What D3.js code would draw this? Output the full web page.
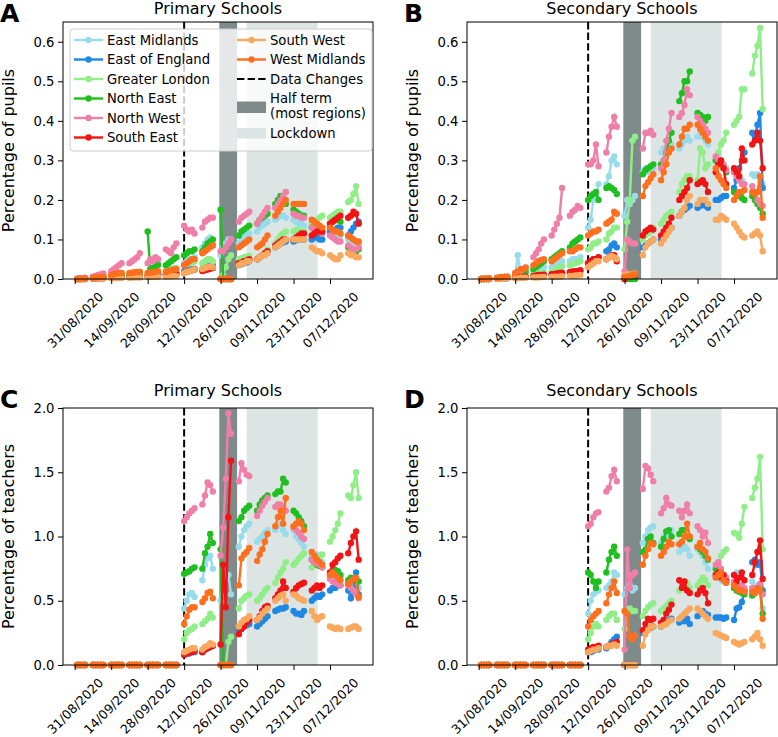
<!DOCTYPE html>
<html>
<head>
<meta charset="utf-8">
<script src="https://cdn.jsdelivr.net/npm/d3@7"></script>
<style>
    body { margin: 0; background: #fff; }
    svg text { font-family: 'DejaVu Sans', sans-serif; }
</style>
</head>
<body>
<div id="chart"></div>
<script>

// school days (weekdays) in the autumn term
var days = [
    '2020-09-01', '2020-09-02', '2020-09-03', '2020-09-04',
    '2020-09-07', '2020-09-08', '2020-09-09', '2020-09-10', '2020-09-11',
    '2020-09-14', '2020-09-15', '2020-09-16', '2020-09-17', '2020-09-18',
    '2020-09-21', '2020-09-22', '2020-09-23', '2020-09-24', '2020-09-25',
    '2020-09-28', '2020-09-29', '2020-09-30', '2020-10-01', '2020-10-02',
    '2020-10-05', '2020-10-06', '2020-10-07', '2020-10-08', '2020-10-09',
    '2020-10-12', '2020-10-13', '2020-10-14', '2020-10-15', '2020-10-16',
    '2020-10-19', '2020-10-20', '2020-10-21', '2020-10-22', '2020-10-23',
    '2020-10-26', '2020-10-27', '2020-10-28', '2020-10-29', '2020-10-30',
    '2020-11-02', '2020-11-03', '2020-11-04', '2020-11-05', '2020-11-06',
    '2020-11-09', '2020-11-10', '2020-11-11', '2020-11-12', '2020-11-13',
    '2020-11-16', '2020-11-17', '2020-11-18', '2020-11-19', '2020-11-20',
    '2020-11-23', '2020-11-24', '2020-11-25', '2020-11-26', '2020-11-27',
    '2020-11-30', '2020-12-01', '2020-12-02', '2020-12-03', '2020-12-04',
    '2020-12-07', '2020-12-08', '2020-12-09', '2020-12-10', '2020-12-11',
    '2020-12-14', '2020-12-15', '2020-12-16', '2020-12-17', '2020-12-18'
];

var regions = ['East Midlands', 'East of England', 'Greater London', 'North East',
    'North West', 'South East', 'South West', 'West Midlands'];
var regionColors = ['#98dcec', '#1e88e5', '#90ee88', '#1fbf1f',
    '#f07fa8', '#f01414', '#f9a85e', '#ff6f1e'];

var xTickDates = ['2020-08-31', '2020-09-14', '2020-09-28', '2020-10-12',
    '2020-10-26', '2020-11-09', '2020-11-23', '2020-12-07'];
var xRange = ['2020-08-26T12:00Z', '2020-12-23T12:00Z'];
var dataChange = '2020-10-12';
var halfTerm = ['2020-10-25T12:00Z', '2020-11-01T08:00Z'];
var lockdown = ['2020-11-05T00:00Z', '2020-12-02T06:00Z'];

var pupilTicks = [0, 0.1, 0.2, 0.3, 0.4, 0.5, 0.6];
var teacherTicks = [0, 0.5, 1.0, 1.5, 2.0];

// A: primary schools, % of pupils
var priPupils_EM = [0,0,.001,.001,
    .002,.003,.004,.004,.005, .006,.007,.008,.008,.009, .01,.011,.012,.012,.013, .012,.013,.014,.015,.016, .02,.022,.024,.026,.028,
    .04,.045,.05,.05,.055, .08,.09,.1,.105,.09, .06,.08,.09,.1,.1, .09,.1,.11,.11,.115, .12,.13,.135,.14,.145,
    .15,.155,.16,.16,.155, .15,.145,.14,.14,.135, .13,.125,.12,.12,.115, .12,.12,.115,.11,.11, .1,.1,.095,.09,.09];
var priPupils_EE = [0,0,0,.001,
    .001,.002,.002,.003,.003, .004,.004,.005,.005,.006, .006,.007,.007,.008,.008, .008,.009,.01,.01,.011, .012,.013,.014,.014,.015,
    .02,.022,.024,.025,.026, .025,.03,.032,.034,.035, 0,0,0,0,0, .035,.038,.04,.042,.045, .05,.055,.06,.065,.07,
    .08,.085,.09,.092,.095, .095,.098,.1,.1,.1, .1,.105,.105,.1,.1, .12,.125,.125,.13,.13, .11,.12,.13,.14,.145];
var priPupils_GL = [0,0,0,0,
    .002,.003,.003,.004,.004, .005,.006,.006,.007,.007, .008,.009,.01,.01,.011, .012,.013,.014,.015,.016, .02,.022,.024,.026,.028,
    .035,.038,.04,.042,.045, .04,.045,.05,.05,.045, 0,.01,.03,.05,.06, .05,.052,.055,.057,.058, .05,.055,.06,.065,.075,
    .09,.1,.11,.115,.12, .12,.125,.125,.12,.12, .14,.145,.15,.155,.16, .155,.16,.165,.17,.17, .195,.2,.215,.235,.19];
var priPupils_NE = [0,0,0,.001,
    .002,.003,.004,.005,.005, .007,.008,.01,.011,.012, .012,.013,.015,.016,.018, .12,.025,.028,.032,.036, .035,.04,.045,.05,.055,
    .06,.065,.07,.07,.075, .07,.08,.09,.095,.1, .175,0,0,0,0, .11,.12,.125,.13,.135, .14,.15,.155,.16,.165,
    .19,.2,.21,.2,.19, .175,.17,.165,.16,.16, .13,.135,.13,.125,.12, .14,.145,.15,.15,.145, .08,.075,.07,.07,.075];
var priPupils_NW = [.001,.002,.002,.003,
    .006,.008,.01,.012,.014, .02,.025,.03,.035,.04, .04,.045,.05,.055,.065, .04,.05,.045,.055,.05, .075,.07,.065,.08,.09,
    .135,.125,.12,.125,.115, .13,.145,.15,.155,.155, .07,.07,.08,.09,.1, .145,.155,.16,.165,.17, .14,.15,.16,.17,.18,
    .18,.19,.2,.21,.22, .165,.16,.16,.155,.155, .13,.125,.12,.12,.115, .11,.105,.1,.095,.095, .085,.08,.075,.075,.08];
var priPupils_SE = [0,0,0,0,
    .001,.001,.002,.002,.002, .003,.003,.004,.004,.004, .005,.005,.006,.006,.006, .007,.007,.008,.008,.009, .01,.01,.011,.012,.012,
    .015,.018,.02,.022,.024, .02,.022,.024,.026,.028, 0,0,0,0,0, .04,.042,.045,.047,.05, .05,.055,.06,.065,.07,
    .085,.09,.095,.1,.1, .1,.105,.11,.115,.115, .11,.115,.12,.12,.12, .14,.145,.15,.155,.16, .155,.16,.17,.165,.14];
var priPupils_SW = [0,0,0,0,
    .001,.001,.001,.002,.002, .002,.002,.003,.003,.003, .003,.004,.004,.004,.004, .005,.005,.005,.006,.006, .006,.007,.007,.008,.008,
    .015,.018,.02,.022,.025, .025,.028,.03,.032,.03, 0,0,0,0,0, .035,.04,.04,.045,.045, .05,.055,.06,.06,.065,
    .08,.085,.09,.095,.1, .1,.1,.1,.1,.1, .08,.075,.07,.07,.065, .06,.055,.05,.05,.06, .065,.06,.06,.055,.055];
var priPupils_WM = [0,.001,.001,.001,
    .003,.004,.005,.005,.006, .01,.012,.014,.015,.015, .015,.016,.017,.018,.018, .015,.016,.017,.018,.02, .018,.02,.022,.024,.025,
    .035,.04,.045,.05,.05, .065,.07,.075,.08,.085, 0,0,0,0,0, .08,.085,.09,.095,.1, .08,.085,.09,.1,.11,
    .16,.17,.18,.19,.2, .19,.19,.19,.19,.19, .15,.145,.14,.135,.13, .13,.125,.12,.12,.115, .11,.105,.1,.095,.095];

// B: secondary schools, % of pupils
var secPupils_EM = [0,0,0,0,
    .002,.003,.004,.005,.006, .01,.06,.02,.018,.02, .02,.022,.025,.028,.03, .03,.035,.038,.04,.045, .045,.05,.05,.05,.055,
    .13,.15,.2,.21,.24, .24,.26,.3,.31,.29, .16,.2,.19,.2,.21, .27,.28,.27,.28,.28, .32,.33,.33,.335,.34,
    .33,.34,.35,.36,.35, .36,.37,.36,.35,.34, .3,.31,.3,.29,.28, .27,.26,.25,.25,.24, .265,.26,.265,.25,.24];
var secPupils_EE = [0,0,0,0,
    .001,.001,.002,.002,.002, .003,.004,.004,.005,.005, .006,.006,.007,.008,.008, .01,.01,.012,.013,.014, .015,.016,.018,.02,.02,
    .04,.045,.05,.05,.055, .07,.075,.085,.09,.08, .005,.008,.01,.01,.012, .08,.085,.09,.095,.1, .1,.11,.115,.125,.13,
    .16,.17,.175,.18,.185, .18,.185,.19,.185,.18, .2,.2,.205,.21,.21, .23,.25,.28,.3,.32, .37,.36,.39,.42,.23];
var secPupils_GL = [0,0,0,0,
    .001,.002,.002,.003,.003, .005,.006,.007,.008,.009, .01,.012,.013,.015,.016, .02,.022,.025,.03,.032, .035,.038,.04,.042,.045,
    .075,.08,.09,.09,.095, .1,.115,.12,.13,.13, .075,.145,.2,.35,.36, .1,.11,.115,.12,.13, .14,.15,.16,.165,.17,
    .22,.24,.25,.26,.26, .25,.33,.32,.28,.29, .3,.32,.34,.35,.37, .39,.4,.41,.48,.48, .52,.565,.59,.635,.43];
var secPupils_NE = [0,0,0,0,
    .002,.003,.003,.004,.005, .01,.012,.014,.016,.018, .025,.03,.035,.04,.045, .05,.055,.06,.065,.07, .08,.09,.095,.1,.105,
    .2,.21,.215,.22,.2, .23,.235,.23,.225,.215, 0,0,0,0,0, .265,.275,.28,.285,.29, .29,.3,.32,.35,.37,
    .45,.47,.5,.5,.525, .42,.415,.41,.4,.41, .3,.295,.29,.28,.27, .22,.215,.21,.205,.2, .21,.2,.19,.18,.165];
var secPupils_NW = [0,0,.001,.001,
    .002,.003,.004,.005,.005, .01,.015,.02,.025,.03, .055,.065,.075,.09,.1, .11,.125,.14,.155,.23, .16,.17,.175,.185,.18,
    .29,.29,.3,.34,.285, .32,.36,.385,.41,.385, .02,.1,.095,.09,.09, .33,.37,.37,.375,.365, .28,.3,.35,.38,.42,
    .41,.42,.44,.48,.465, .41,.4,.39,.38,.37, .31,.3,.3,.29,.275, .27,.26,.25,.24,.24, .235,.22,.2,.19,.185];
var secPupils_SE = [0,0,0,0,
    .001,.001,.002,.002,.003, .004,.005,.005,.006,.006, .008,.009,.01,.01,.011, .012,.013,.014,.015,.016, .018,.019,.02,.02,.022,
    .04,.045,.05,.05,.055, .05,.055,.06,.06,.045, 0,.005,.008,.01,.01, .11,.12,.125,.13,.125, .11,.12,.13,.14,.155,
    .2,.21,.22,.23,.25, .24,.245,.25,.24,.22, .27,.29,.3,.28,.24, .28,.27,.26,.33,.3, .34,.35,.37,.35,.28];
var secPupils_SW = [0,0,0,0,
    0,.001,.001,.001,.002, .002,.002,.003,.003,.003, .004,.004,.004,.005,.005, .005,.006,.006,.006,.007, .008,.008,.009,.009,.01,
    .03,.035,.04,.045,.045, .05,.055,.058,.055,.05, .01,.012,.012,.012,.014, .06,.08,.09,.095,.1, .09,.1,.11,.12,.13,
    .16,.17,.18,.2,.21, .19,.2,.2,.2,.19, .15,.15,.16,.155,.15, .14,.13,.12,.11,.105, .11,.115,.12,.11,.07];
var secPupils_WM = [0,.001,.001,.002,
    .003,.004,.005,.006,.006, .015,.02,.025,.025,.028, .035,.04,.045,.048,.05, .045,.05,.055,.06,.065, .07,.07,.075,.08,.08,
    .11,.115,.12,.12,.125, .14,.145,.15,.17,.165, .005,.006,.008,.01,.012, .21,.235,.245,.255,.265, .25,.27,.29,.32,.33,
    .34,.36,.38,.38,.39, .39,.38,.37,.36,.35, .28,.26,.25,.24,.23, .2,.21,.22,.22,.225, .22,.215,.22,.26,.155];

// C: primary schools, % of teachers (no data before 12/10)
var priTeachers_EM = [0,0,0,0, 0,0,0,0,0, 0,0,0,0,0, 0,0,0,0,0, 0,0,0,0,0, 0,0,0,0,0,
    .44,.5,.55,.56,.53, .66,.78,.83,.85,.75, .5,.55,.68,.7,.55, .92,1.0,1.05,1.08,1.1, .96,.98,1.0,1.03,1.05,
    1.05,1.08,1.1,1.05,1.02, 1.05,1.0,.98,.95,.92, .85,.84,.86,.84,.8, .72,.7,.68,.7,.68, .64,.63,.66,.65,.6];
var priTeachers_EE = [0,0,0,0, 0,0,0,0,0, 0,0,0,0,0, 0,0,0,0,0, 0,0,0,0,0, 0,0,0,0,0,
    .08,.09,.09,.1,.1, .1,.12,.13,.14,.15, 0,0,0,0,0, .27,.28,.3,.31,.32, .3,.32,.34,.36,.38,
    .42,.43,.44,.44,.45, .42,.4,.4,.39,.42, .5,.52,.54,.53,.55, .58,.6,.6,.62,.62, .58,.52,.6,.72,.55];
var priTeachers_GL = [0,0,0,0, 0,0,0,0,0, 0,0,0,0,0, 0,0,0,0,0, 0,0,0,0,0, 0,0,0,0,0,
    .2,.25,.27,.28,.3, .32,.34,.36,.4,.37, 0,0,0,.18,.22, .44,.5,.52,.54,.55, .5,.52,.55,.58,.6,
    .64,.68,.72,.75,.8, .78,.8,.83,.85,.87, .76,.78,.8,.84,.86, .96,1.0,1.05,1.1,1.18, 1.32,1.3,1.4,1.5,1.3];
var priTeachers_NE = [0,0,0,0, 0,0,0,0,0, 0,0,0,0,0, 0,0,0,0,0, 0,0,0,0,0, 0,0,0,0,0,
    .71,.72,.73,.75,.76, .75,.87,.92,1.02,.95, .9,0,0,0,0, 1.12,1.15,1.2,1.22,1.24, 1.2,1.25,1.28,1.3,1.32,
    1.33,1.35,1.35,1.45,1.42, 1.2,1.18,1.15,1.12,1.08, .82,.8,.78,.77,.76, .7,.72,.74,.73,.7, .66,.68,.67,.66,.65];
var priTeachers_NW = [0,0,0,0, 0,0,0,0,0, 0,0,0,0,0, 0,0,0,0,0, 0,0,0,0,0, 0,0,0,0,0,
    1.12,1.15,1.18,1.2,1.22, 1.25,1.32,1.42,1.4,1.35, .85,1.07,1.45,1.96,1.8, 1.43,1.57,1.52,1.48,1.47, 1.16,1.2,1.24,1.27,1.3,
    1.23,1.25,1.25,1.22,1.2, 1.07,1.05,1.03,1.0,.98, .82,.8,.79,.78,.76, .67,.65,.64,.63,.62, .62,.6,.58,.55,.52];
var priTeachers_SE = [0,0,0,0, 0,0,0,0,0, 0,0,0,0,0, 0,0,0,0,0, 0,0,0,0,0, 0,0,0,0,0,
    .08,.09,.1,.1,.11, .1,.12,.13,.14,.15, .16,.78,.45,1.15,1.59, .24,.28,.3,.33,.35, .35,.38,.42,.45,.46,
    .52,.55,.58,.65,.6, .57,.6,.62,.63,.64, .58,.6,.62,.6,.62, .72,.78,.8,.83,.85, .87,.95,1.0,1.04,.82];
var priTeachers_SW = [0,0,0,0, 0,0,0,0,0, 0,0,0,0,0, 0,0,0,0,0, 0,0,0,0,0, 0,0,0,0,0,
    .1,.11,.12,.13,.13, .12,.14,.15,.17,.16, 0,0,0,0,0, .3,.33,.35,.36,.38, .35,.37,.4,.42,.44,
    .5,.52,.54,.55,.5, .55,.54,.52,.51,.5, .42,.38,.35,.37,.38, .3,.29,.28,.29,.28, .28,.29,.3,.3,.28];
var priTeachers_WM = [0,0,0,0, 0,0,0,0,0, 0,0,0,0,0, 0,0,0,0,0, 0,0,0,0,0, 0,0,0,0,0,
    .32,.38,.43,.45,.45, .49,.52,.56,.57,.52, 0,0,0,0,0, .62,.83,.86,.88,.91, .81,.86,.9,.96,1.02,
    1.08,1.15,1.2,1.1,1.3, 1.08,1.1,1.12,1.1,1.05, .88,.85,.82,.8,.78, .7,.72,.7,.68,.66, .63,.65,.67,.68,.53];

// D: secondary schools, % of teachers
var secTeachers_EM = [0,0,0,0, 0,0,0,0,0, 0,0,0,0,0, 0,0,0,0,0, 0,0,0,0,0, 0,0,0,0,0,
    .4,.5,.55,.57,.58, .6,.62,.65,.72,.7, .55,.6,.62,.58,.6, .95,1.0,1.05,1.07,1.08, .95,1.0,1.02,1.04,1.05,
    .88,.9,.92,.9,.85, .9,.88,.85,.8,.75, .7,.68,.66,.65,.64, .7,.72,.7,.68,.66, .65,.6,.62,.58,.44];
var secTeachers_EE = [0,0,0,0, 0,0,0,0,0, 0,0,0,0,0, 0,0,0,0,0, 0,0,0,0,0, 0,0,0,0,0,
    .1,.1,.11,.12,.12, .13,.15,.18,.2,.22, 0,0,0,0,0, .25,.27,.28,.29,.3, .3,.32,.34,.35,.36,
    .33,.35,.34,.36,.32, .38,.4,.42,.4,.39, .37,.37,.37,.36,.37, .35,.44,.45,.49,.58, .8,.82,.78,.8,.58];
var secTeachers_GL = [0,0,0,0, 0,0,0,0,0, 0,0,0,0,0, 0,0,0,0,0, 0,0,0,0,0, 0,0,0,0,0,
    .2,.25,.3,.32,.3, .35,.38,.4,.4,.35, .28,.42,.44,.42,.42, .38,.42,.45,.47,.48, .42,.44,.46,.48,.5,
    .58,.6,.62,.64,.6, .62,.65,.68,.66,.62, .72,.78,.85,.88,.9, 1.03,1.02,.99,1.1,1.23, 1.3,1.38,1.45,1.62,.9];
var secTeachers_NE = [0,0,0,0, 0,0,0,0,0, 0,0,0,0,0, 0,0,0,0,0, 0,0,0,0,0, 0,0,0,0,0,
    .72,.7,.65,.6,.65, .72,.82,.88,.92,.85, 0,0,0,0,0, .88,.9,.98,1.0,.95, .92,.98,1.04,1.05,1.0,
    1.02,1.05,1.05,1.0,.98, .92,.9,.88,.85,.82, .75,.72,.7,.68,.66, .6,.58,.57,.56,.55, .54,.56,.58,.6,.4];
var secTeachers_NW = [0,0,0,0, 0,0,0,0,0, 0,0,0,0,0, 0,0,0,0,0, 0,0,0,0,0, 0,0,0,0,0,
    1.08,1.1,1.15,1.18,1.19, 1.35,1.38,1.47,1.52,1.43, .12,.9,.6,.7,.72, 1.37,1.55,1.53,1.48,1.43, 1.18,1.22,1.3,1.25,1.24,
    1.2,1.15,1.2,1.25,1.18, 1.08,1.05,1.0,1.03,.95, .78,.8,.75,.7,.68, .65,.62,.6,.62,.6, .6,.58,.6,.63,.55];
var secTeachers_SE = [0,0,0,0, 0,0,0,0,0, 0,0,0,0,0, 0,0,0,0,0, 0,0,0,0,0, 0,0,0,0,0,
    .12,.13,.14,.14,.15, .14,.15,.16,.17,.18, 0,0,0,0,0, .27,.32,.36,.35,.36, .33,.35,.4,.43,.47,
    .66,.6,.65,.58,.56, .55,.58,.6,.56,.48, .7,.72,.68,.7,.65, .7,.65,.68,.72,.66, .7,.8,.88,.97,.67];
var secTeachers_SW = [0,0,0,0, 0,0,0,0,0, 0,0,0,0,0, 0,0,0,0,0, 0,0,0,0,0, 0,0,0,0,0,
    .1,.11,.12,.12,.13, .14,.15,.15,.16,.15, 0,0,0,0,0, .15,.24,.27,.3,.3, .3,.31,.32,.34,.35,
    .36,.38,.4,.42,.44, .44,.42,.4,.38,.36, .25,.24,.23,.22,.21, .18,.17,.16,.17,.18, .2,.22,.25,.2,.15];
var secTeachers_WM = [0,0,0,0, 0,0,0,0,0, 0,0,0,0,0, 0,0,0,0,0, 0,0,0,0,0, 0,0,0,0,0,
    .3,.35,.38,.4,.42, .48,.55,.6,.65,.56, .42,.4,.22,.2,.23, .78,.85,.9,.95,.94, .85,.88,.92,.96,.94,
    .94,.96,1.0,1.1,1.0, .92,.95,.9,.88,.83, .68,.7,.72,.66,.64, .62,.6,.58,.58,.57, .57,.56,.6,.58,.36];

(function () {

    var W = 778, H = 737,
        plotW = 310, plotH = 257,
        parseDay = d3.utcParse('%Y-%m-%d'),
        dates = days.map(parseDay),
        fmt1 = d3.format('.1f');

    var panels = [
        { letter: 'A', title: 'Primary Schools', ylabel: 'Percentage of pupils', left: 63, top: 22, titleY: -8.5,
          yMax: 0.65, yTicks: pupilTicks, legend: true,
          series: [priPupils_EM, priPupils_EE, priPupils_GL, priPupils_NE, priPupils_NW, priPupils_SE, priPupils_SW, priPupils_WM] },
        { letter: 'B', title: 'Secondary Schools', ylabel: 'Percentage of pupils', left: 467, top: 22, titleY: -8.5,
          yMax: 0.65, yTicks: pupilTicks,
          series: [secPupils_EM, secPupils_EE, secPupils_GL, secPupils_NE, secPupils_NW, secPupils_SE, secPupils_SW, secPupils_WM] },
        { letter: 'C', title: 'Primary Schools', ylabel: 'Percentage of teachers', left: 63, top: 408, titleY: -12,
          yMax: 2.0, yTicks: teacherTicks,
          series: [priTeachers_EM, priTeachers_EE, priTeachers_GL, priTeachers_NE, priTeachers_NW, priTeachers_SE, priTeachers_SW, priTeachers_WM] },
        { letter: 'D', title: 'Secondary Schools', ylabel: 'Percentage of teachers', left: 467, top: 408, titleY: -12,
          yMax: 2.0, yTicks: teacherTicks,
          series: [secTeachers_EM, secTeachers_EE, secTeachers_GL, secTeachers_NE, secTeachers_NW, secTeachers_SE, secTeachers_SW, secTeachers_WM] }
    ];

    var svg = d3.select('#chart').append('svg')
        .attr('width', W)
        .attr('height', H);

    svg.append('rect')
        .attr('width', W)
        .attr('height', H)
        .attr('fill', '#fff');

    // split a series into week-long runs (no line across weekends)
    var segments = function (vals) {
        var segs = [], cur = [];
        vals.forEach(function (v, i) {
            if (i > 0 && dates[i] - dates[i - 1] > 1.5 * 864e5) {
                segs.push(cur);
                cur = [];
            }
            cur.push([dates[i], v]);
        });
        segs.push(cur);
        return segs;
    };

    var drawPanel = function (p) {

        var g = svg.append('g')
            .attr('transform', 'translate(' + p.left + ',' + p.top + ')');

        var x = d3.scaleUtc()
            .domain(xRange.map(function (d) { return new Date(d); }))
            .range([0, plotW]);

        var y = d3.scaleLinear()
            .domain([0, p.yMax])
            .range([plotH, 0]);

        // shaded periods
        g.append('rect')
            .attr('x', x(new Date(halfTerm[0])))
            .attr('width', x(new Date(halfTerm[1])) - x(new Date(halfTerm[0])))
            .attr('y', 0)
            .attr('height', plotH)
            .attr('fill', '#7f8b8b');

        g.append('rect')
            .attr('x', x(new Date(lockdown[0])))
            .attr('width', x(new Date(lockdown[1])) - x(new Date(lockdown[0])))
            .attr('y', 0)
            .attr('height', plotH)
            .attr('fill', '#dde5e4');

        g.append('line')
            .attr('x1', x(parseDay(dataChange)))
            .attr('x2', x(parseDay(dataChange)))
            .attr('y1', 0)
            .attr('y2', plotH)
            .attr('stroke', '#000')
            .attr('stroke-width', 2)
            .attr('stroke-dasharray', '7.4,3.2');

        var line = d3.line()
            .x(function (d) { return x(d[0]); })
            .y(function (d) { return y(d[1]); });

        p.series.forEach(function (vals, si) {
            var sg = g.append('g');
            sg.selectAll('path')
                .data(segments(vals))
                .enter().append('path')
                .attr('d', line)
                .attr('fill', 'none')
                .attr('stroke', regionColors[si])
                .attr('stroke-width', 2.4);
            sg.selectAll('circle')
                .data(vals)
                .enter().append('circle')
                .attr('cx', function (d, i) { return x(dates[i]); })
                .attr('cy', function (d) { return y(d); })
                .attr('r', 3.2)
                .attr('fill', regionColors[si]);
        });

        // axes
        var yAxis = g.append('g')
            .call(d3.axisLeft(y).tickValues(p.yTicks).tickFormat(fmt1).tickSize(5).tickPadding(3.5));
        yAxis.select('.domain').remove();
        yAxis.selectAll('text').attr('font-size', 13.2).attr('fill', '#000').style('font-family', 'DejaVu Sans');

        var xAxis = g.append('g')
            .attr('transform', 'translate(0,' + plotH + ')')
            .call(d3.axisBottom(x).tickValues(xTickDates.map(parseDay)).tickFormat(d3.utcFormat('%d/%m/%Y')).tickSize(5));
        xAxis.select('.domain').remove();
        xAxis.selectAll('text')
            .attr('y', 0)
            .attr('dy', null)
            .attr('font-size', 12.6)
            .attr('fill', '#000')
            .attr('text-anchor', 'middle')
            .attr('dominant-baseline', 'central')
            .attr('transform', 'translate(0,41) rotate(-45)')
            .style('font-family', 'DejaVu Sans');

        g.append('rect')
            .attr('width', plotW)
            .attr('height', plotH)
            .attr('fill', 'none')
            .attr('stroke', '#000')
            .attr('stroke-width', 1);

        g.append('text')
            .attr('x', plotW / 2)
            .attr('y', p.titleY)
            .attr('text-anchor', 'middle')
            .attr('font-size', 16)
            .text(p.title);

        g.append('text')
            .attr('transform', 'translate(-49.5,' + plotH / 2 + ') rotate(-90)')
            .attr('text-anchor', 'middle')
            .attr('font-size', 16)
            .text(p.ylabel);

        g.append('text')
            .attr('x', -63)
            .attr('y', 0)
            .attr('font-size', 25)
            .attr('font-weight', 'bold')
            .text(p.letter);

        if (p.legend) drawLegend(g);
    };

    var drawLegend = function (g) {

        var lg = g.append('g').attr('transform', 'translate(7,7)');

        lg.append('rect')
            .attr('width', 302)
            .attr('height', 122)
            .attr('rx', 3)
            .attr('fill', '#fff')
            .attr('fill-opacity', 0.8)
            .attr('stroke', '#cccccc')
            .attr('stroke-width', 1);

        var rowY = function (i) { return 11 + i * 19.5; };

        var items = lg.selectAll('.legend-region')
            .data(regions)
            .enter().append('g')
            .attr('class', 'legend-region')
            .attr('transform', function (d, i) {
                var col = i < 6 ? 0 : 1, row = i < 6 ? i : i - 6;
                return 'translate(' + (col ? 167 : 4) + ',' + rowY(row) + ')';
            });

        items.append('line')
            .attr('x1', 0).attr('x2', 29)
            .attr('stroke', function (d, i) { return regionColors[i]; })
            .attr('stroke-width', 2.4);
        items.append('circle')
            .attr('cx', 14.5)
            .attr('r', 3.2)
            .attr('fill', function (d, i) { return regionColors[i]; });
        items.append('text')
            .attr('x', 33)
            .attr('dy', '0.35em')
            .attr('font-size', 13.2)
            .text(function (d) { return d; });

        var c2 = lg.append('g').attr('transform', 'translate(167,0)');

        c2.append('line')
            .attr('x1', 0).attr('x2', 29)
            .attr('y1', rowY(2)).attr('y2', rowY(2))
            .attr('stroke', '#000')
            .attr('stroke-width', 2)
            .attr('stroke-dasharray', '7.4,3.2');
        c2.append('text')
            .attr('x', 33).attr('y', rowY(2)).attr('dy', '0.35em')
            .attr('font-size', 13.2)
            .text('Data Changes');

        c2.append('rect')
            .attr('x', 0).attr('y', 72.5)
            .attr('width', 29).attr('height', 11.5)
            .attr('fill', '#7f8b8b');
        c2.append('text')
            .attr('x', 33).attr('y', 69).attr('dy', '0.35em')
            .attr('font-size', 13.2)
            .text('Half term');
        c2.append('text')
            .attr('x', 33).attr('y', 84.5).attr('dy', '0.35em')
            .attr('font-size', 13.2)
            .text('(most regions)');

        c2.append('rect')
            .attr('x', 0).attr('y', 99)
            .attr('width', 29).attr('height', 10.5)
            .attr('fill', '#dde5e4');
        c2.append('text')
            .attr('x', 33).attr('y', 104.5).attr('dy', '0.35em')
            .attr('font-size', 13.2)
            .text('Lockdown');
    };

    panels.forEach(drawPanel);

})();
</script>
</body>
</html>
